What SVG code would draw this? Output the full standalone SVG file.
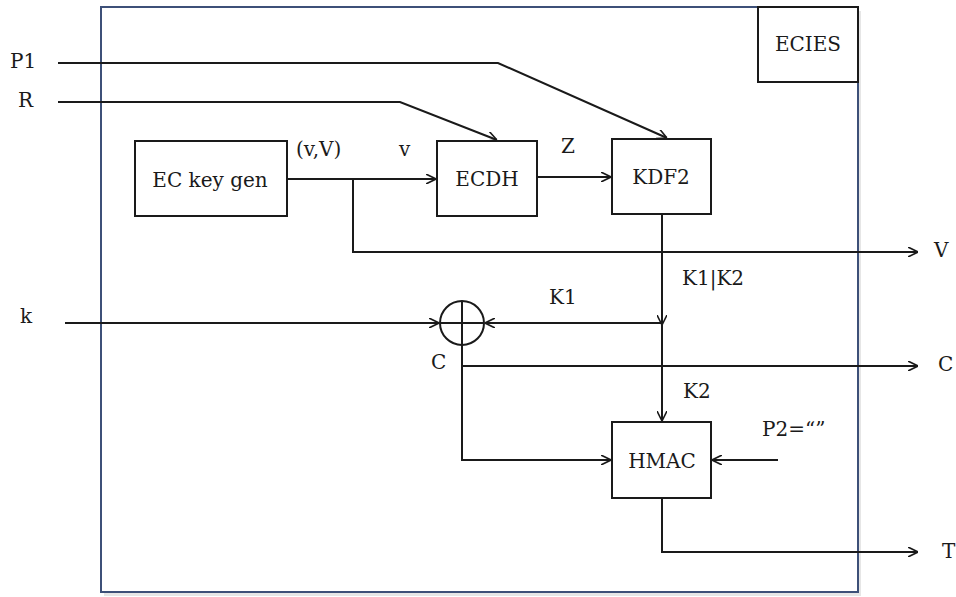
<svg xmlns="http://www.w3.org/2000/svg" width="956" height="597" viewBox="0 0 956 597">
<defs>
<marker id="arr" viewBox="0 0 10 10" refX="10" refY="5" markerWidth="10" markerHeight="10" markerUnits="userSpaceOnUse" orient="auto">
<path d="M0,0 L10,5 L0,10" fill="none" stroke="#1a1a1a" stroke-width="1.6"/>
</marker>
</defs>
<style>
.frame{fill:#ffffff;stroke:#3d5078;stroke-width:2}
.box{fill:#ffffff;stroke:#1a1a1a;stroke-width:2}
.ln{fill:none;stroke:#1a1a1a;stroke-width:2}
.t{font-family:"DejaVu Serif","Liberation Serif",serif;font-size:20px;fill:#1a1a1a}
.m{text-anchor:middle}
</style>
<rect width="956" height="597" fill="#ffffff"/>
<rect x="104" y="11" width="757" height="585" fill="#e6e6e6"/>
<rect class="frame" x="101" y="7" width="757" height="585"/>
<g id="ecies">
<rect class="box" x="758" y="7" width="100" height="75"/>
<text class="t m" x="808" y="51">ECIES</text>
</g>
<g id="keygen">
<rect class="box" x="135" y="141" width="152" height="75"/>
<text class="t m" x="210" y="187">EC key gen</text>
</g>
<g id="ecdh">
<rect class="box" x="437" y="141" width="100" height="75"/>
<text class="t m" x="487" y="186">ECDH</text>
</g>
<g id="kdf2">
<rect class="box" x="612" y="139" width="99" height="75"/>
<text class="t m" x="661" y="184">KDF2</text>
</g>
<g id="hmac">
<rect class="box" x="612" y="422" width="99" height="76"/>
<text class="t m" x="662" y="468">HMAC</text>
</g>
<g id="xor">
<circle class="ln" cx="462" cy="323" r="22"/>
<path class="ln" d="M462,301 L462,345 M440,323 L484,323"/>
</g>
<g id="connectors">
<path class="ln" d="M58,63 L498,63 L667,138" marker-end="url(#arr)"/>
<path class="ln" d="M58,102 L400,102 L497,140" marker-end="url(#arr)"/>
<path class="ln" d="M287,179 L436,179" marker-end="url(#arr)"/>
<path class="ln" d="M353,179 L353,252 L918,252" marker-end="url(#arr)"/>
<path class="ln" d="M537,177 L611,177" marker-end="url(#arr)"/>
<path class="ln" d="M662,214 L662,325" marker-end="url(#arr)"/>
<path class="ln" d="M662,323 L662,421" marker-end="url(#arr)"/>
<path class="ln" d="M662,323 L485,323" marker-end="url(#arr)"/>
<path class="ln" d="M65,323 L439,323" marker-end="url(#arr)"/>
<path class="ln" d="M462,345 L462,460 L611,460" marker-end="url(#arr)"/>
<path class="ln" d="M462,366 L918,366" marker-end="url(#arr)"/>
<path class="ln" d="M778,460 L712,460" marker-end="url(#arr)"/>
<path class="ln" d="M662,498 L662,552 L918,552" marker-end="url(#arr)"/>
</g>
<g id="labels">
<text class="t" x="10" y="68">P1</text>
<text class="t" x="18" y="107">R</text>
<text class="t" x="296" y="156">(v,V)</text>
<text class="t" x="399" y="156">v</text>
<text class="t" x="561" y="153">Z</text>
<text class="t" x="934" y="257">V</text>
<text class="t" x="682" y="285">K1|K2</text>
<text class="t" x="20" y="323">k</text>
<text class="t" x="549" y="304">K1</text>
<text class="t" x="431" y="369">C</text>
<text class="t" x="938" y="371">C</text>
<text class="t" x="683" y="398">K2</text>
<text class="t" x="762" y="436">P2=“”</text>
<text class="t" x="942" y="558">T</text>
</g>
</svg>
